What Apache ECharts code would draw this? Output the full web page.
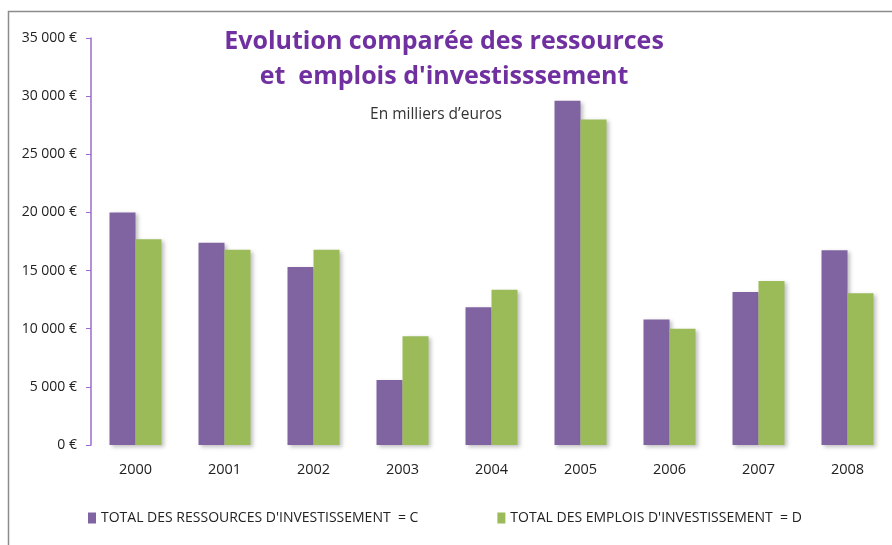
<!DOCTYPE html>
<html>
<head>
<meta charset="utf-8">
<script src="https://cdn.jsdelivr.net/npm/echarts@6/dist/echarts.min.js"></script>
<style>
  html, body { margin: 0; padding: 0; background: #fff; }
  #main { width: 892px; height: 545px; }
</style>
</head>
<body>
<div id="main"></div>
<script>
var years = ["2000", "2001", "2002", "2003", "2004", "2005", "2006", "2007", "2008"]
var ressources = [20000, 17400, 15300, 5600, 11850, 29600, 10800, 13150, 16750]
var emplois = [17700, 16800, 16800, 9350, 13350, 28000, 10000, 14100, 13050]
var nameC = "TOTAL DES RESSOURCES D'INVESTISSEMENT  = C"
var nameD = "TOTAL DES EMPLOIS D'INVESTISSEMENT  = D"

var chartDom = document.getElementById("main")
var myChart = echarts.init(chartDom)
var option

var barShadow = {
    shadowBlur: 4,
    shadowColor: "rgba(0,0,0,0.25)",
    shadowOffsetX: 2,
    shadowOffsetY: 2
}

option = {
    backgroundColor: "#fff",
    textStyle: { fontFamily: "Open Sans" },
    graphic: [
        {
            type: "polyline",
            shape: { points: [[8.5, 545], [8.5, 11.5], [892, 11.5]] },
            style: { stroke: "#8c8c8c", lineWidth: 1.5, fill: null },
            silent: true
        }
    ],
    title: [
        {
            text: "Evolution comparée des ressources\net  emplois d'investisssement",
            left: 439,
            top: 19,
            textAlign: "center",
            textStyle: {
                color: "#7030a0",
                fontSize: 25,
                fontWeight: "bold",
                lineHeight: 35,
                fontFamily: "Open Sans"
            }
        },
        {
            text: "En milliers d\u2019euros",
            left: 431,
            top: 102,
            textAlign: "center",
            textStyle: { color: "#333", fontSize: 15.5, fontWeight: "normal", fontFamily: "Open Sans" }
        }
    ],
    legend: {
        left: 83,
        top: 506,
        itemGap: 79,
        itemWidth: 8,
        itemHeight: 11,
        icon: "rect",
        textStyle: { fontSize: 14, color: "#222", fontFamily: "Open Sans" },
        data: [nameC, nameD]
    },
    grid: {
        left: 91,
        right: -1,
        top: 38,
        bottom: 100
    },
    xAxis: {
        type: "category",
        data: years,
        axisLine: { show: false },
        axisTick: { show: false },
        axisLabel: { color: "#222", fontSize: 14.5, margin: 17 }
    },
    yAxis: {
        type: "value",
        min: 0,
        max: 35000,
        interval: 5000,
        splitLine: { show: false },
        axisLine: { show: true, lineStyle: { color: "#9b6ad0", width: 1.5 } },
        axisTick: { show: true, length: 5, lineStyle: { color: "#9b6ad0" } },
        axisLabel: {
            color: "#222",
            fontSize: 14,
            margin: 14,
            formatter: function (v) {
                return String(v).replace(/\B(?=(\d{3})+(?!\d))/g, " ") + " €"
            }
        }
    },
    series: [
        {
            name: nameC,
            type: "bar",
            data: ressources,
            barWidth: 26,
            barGap: "0%",
            itemStyle: Object.assign({ color: "#8064a2" }, barShadow)
        },
        {
            name: nameD,
            type: "bar",
            data: emplois,
            barWidth: 26,
            itemStyle: Object.assign({ color: "#9bbb59" }, barShadow)
        }
    ]
}

option && myChart.setOption(option)
</script>
</body>
</html>
